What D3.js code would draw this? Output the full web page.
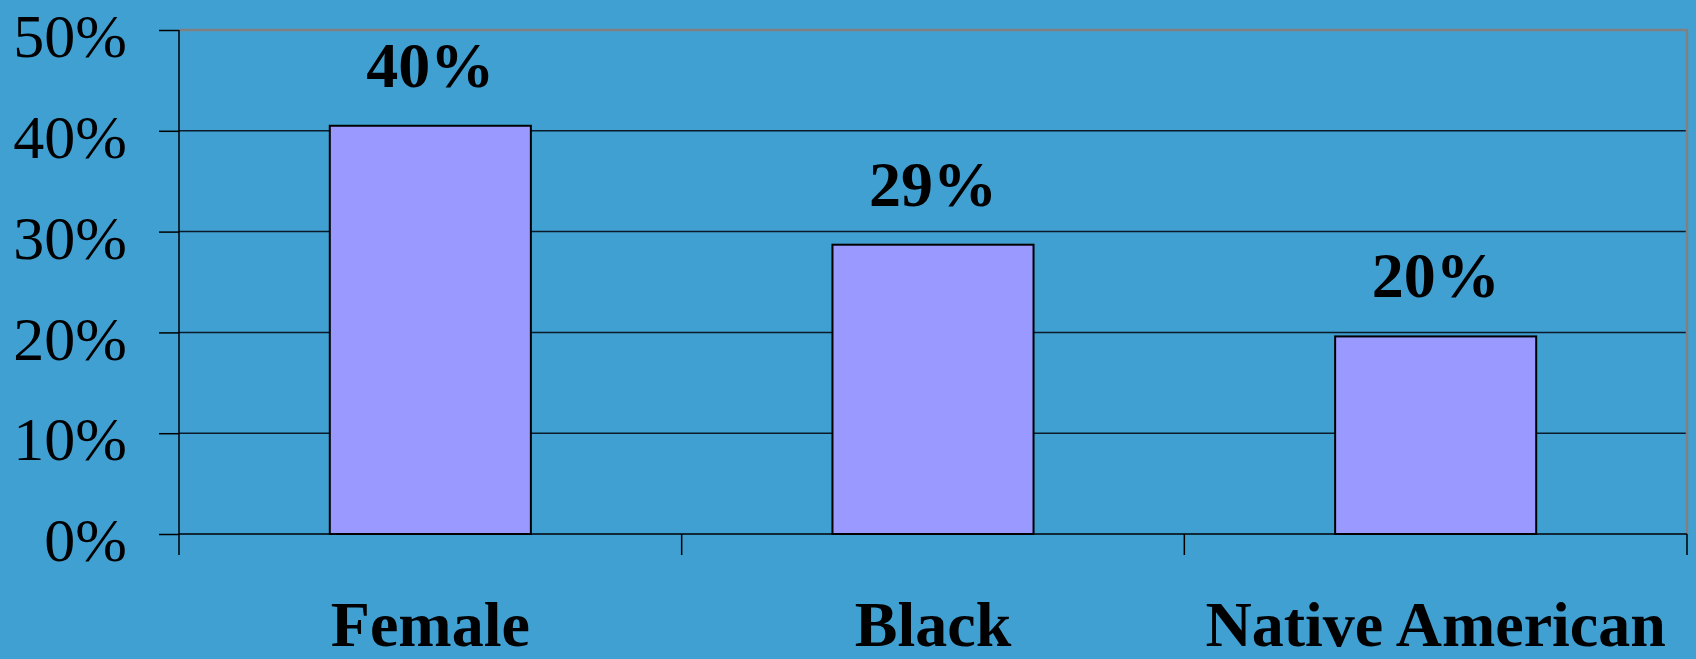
<!DOCTYPE html>
<html>
<head>
<meta charset="utf-8">
<script src="https://cdn.jsdelivr.net/npm/d3@7"></script>
<style>
  html, body { margin: 0; padding: 0; background: #40A0D2; }
  svg { display: block; }
</style>
</head>
<body>
<script>
var categories = ["Female", "Black", "Native American"];
var values = [40.5, 28.7, 19.6];
var valueLabels = ["40%", "29%", "20%"];
var yTicks = [0, 10, 20, 30, 40, 50];

var width = 1696, height = 659;
var margin = { top: 30, right: 9, bottom: 125, left: 179 };
var plotW = width - margin.left - margin.right;
var plotH = height - margin.top - margin.bottom;

var svg = d3.select("body").append("svg")
  .attr("width", width)
  .attr("height", height);

var g = svg.append("g")
  .attr("transform", "translate(" + margin.left + "," + margin.top + ")");

var x = d3.scaleBand()
  .domain(categories)
  .range([0, plotW])
  .paddingInner(0.6)
  .paddingOuter(0.3);

// band edges for category tick marks
var xEdges = d3.scaleBand().domain(categories).range([0, plotW]).padding(0);

var y = d3.scaleLinear().domain([0, 50]).range([plotH, 0]);

// gridlines
g.selectAll(".grid")
  .data(yTicks.filter(function(d) { return d > 0 && d < 50; }))
  .enter().append("line")
  .attr("x1", 0).attr("x2", plotW)
  .attr("y1", function(d) { return y(d); })
  .attr("y2", function(d) { return y(d); })
  .attr("stroke", "#0a1a28")
  .attr("stroke-width", 1.5);

// top + right border (gray)
g.append("path")
  .attr("d", "M0," + y(50) + "H" + plotW + "V" + y(0))
  .attr("fill", "none")
  .attr("stroke", "#808080")
  .attr("stroke-width", 2.5);

// bars
g.selectAll(".bar")
  .data(values)
  .enter().append("rect")
  .attr("x", function(d, i) { return x(categories[i]); })
  .attr("y", function(d) { return y(d); })
  .attr("width", x.bandwidth())
  .attr("height", function(d) { return y(0) - y(d); })
  .attr("fill", "#9999FF")
  .attr("stroke", "#000")
  .attr("stroke-width", 2);

// value labels
g.selectAll(".vlabel")
  .data(values)
  .enter().append("text")
  .attr("x", function(d, i) { return x(categories[i]) + x.bandwidth() / 2; })
  .attr("y", function(d) { return y(d) - 39; })
  .attr("text-anchor", "middle")
  .style("font-family", "'Liberation Serif', 'Times New Roman', serif")
  .style("font-weight", "bold")
  .style("font-size", "64px")
  .text(function(d, i) { return valueLabels[i]; });

// y axis
var yAxis = d3.axisLeft(y)
  .tickValues(yTicks)
  .tickSize(20)
  .tickPadding(32)
  .tickFormat(function(d) { return d + "%"; });

var yg = g.append("g").call(yAxis);
yg.select(".domain").attr("stroke", "#000").attr("stroke-width", 1.5)
  .attr("d", "M0," + y(50) + "V" + (y(0) + 21));
yg.selectAll(".tick line").attr("stroke", "#000").attr("stroke-width", 1.5);
yg.selectAll(".tick text")
  .attr("fill", "#000")
  .attr("dy", "0.43em")
  .style("font-family", "'Liberation Serif', 'Times New Roman', serif")
  .style("font-size", "62px");

// x axis baseline + category boundary ticks
g.append("line")
  .attr("x1", 0).attr("x2", plotW)
  .attr("y1", y(0)).attr("y2", y(0))
  .attr("stroke", "#000").attr("stroke-width", 1.5);

var edges = categories.map(function(c) { return xEdges(c); }).concat([plotW]);
g.selectAll(".xtick")
  .data(edges.slice(1))
  .enter().append("line")
  .attr("x1", function(d) { return d; })
  .attr("x2", function(d) { return d; })
  .attr("y1", y(0)).attr("y2", y(0) + 21)
  .attr("stroke", "#000").attr("stroke-width", 1.5);

// category labels
g.selectAll(".xlabel")
  .data(categories)
  .enter().append("text")
  .attr("x", function(d) { return xEdges(d) + xEdges.bandwidth() / 2; })
  .attr("y", plotH + 112)
  .attr("text-anchor", "middle")
  .style("font-family", "'Liberation Serif', 'Times New Roman', serif")
  .style("font-weight", "bold")
  .style("font-size", "64px")
  .text(function(d) { return d; });
</script>
</body>
</html>
